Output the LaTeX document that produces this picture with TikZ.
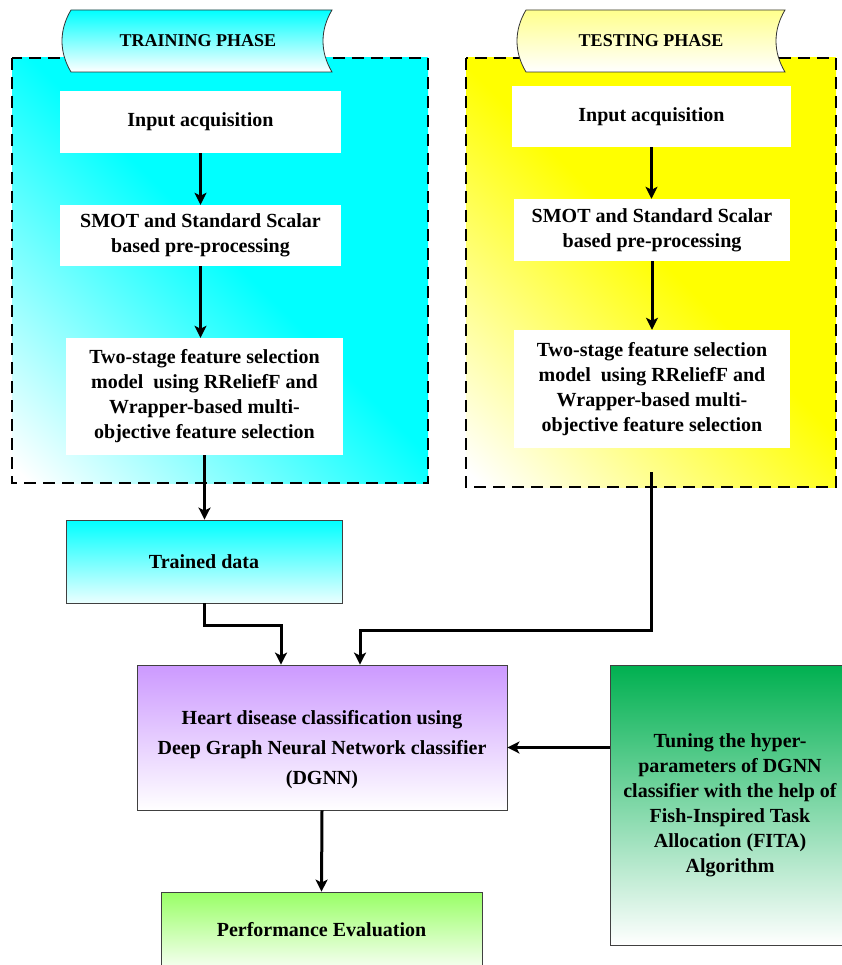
\documentclass[tikz,border=0pt]{standalone}
\usepackage{fontspec}
\setmainfont{Liberation Serif}
\usetikzlibrary{positioning,arrows.meta}

\definecolor{traincyan}{RGB}{0,255,255}
\definecolor{testyellow}{RGB}{255,255,0}
\definecolor{banneryellow}{RGB}{255,255,140}
\definecolor{dgnnpurple}{RGB}{204,153,255}
\definecolor{fitagreen}{RGB}{0,176,80}
\definecolor{perfgreen}{RGB}{153,255,102}

\pgfdeclareverticalshading{trainshade}{100bp}{color(0bp)=(white); color(16bp)=(white); color(52bp)=(traincyan); color(100bp)=(traincyan)}
\pgfdeclareverticalshading{testshade}{100bp}{color(0bp)=(white); color(16bp)=(white); color(52bp)=(testyellow); color(100bp)=(testyellow)}

\begin{document}
\begin{tikzpicture}[x=1pt, y=-1pt, >={Stealth[length=12pt,width=12pt,inset=3pt]},
  every node/.style={font=\bfseries\fontsize{20}{25}\selectfont, align=center},
  inbox/.style={fill=white, inner sep=0pt},
  phase frame/.style={draw=black, line width=2.2pt, dash pattern=on 12pt off 7pt},
  grad box/.style={draw=black!75, line width=0.8pt, inner sep=0pt, top color=#1, bottom color=white},
  banner/.style={draw=black!80, line width=0.8pt, top color=#1, bottom color=white},
  flow/.style={->, line width=3pt}]

\useasboundingbox (0,0) rectangle (842,965);

% phase frames
\path[phase frame, shading=trainshade, shading angle=-45] (12,58) rectangle (428,483);
\path[phase frame, shading=testshade, shading angle=-45] (466,58) rectangle (836,487);

% banners
\path[banner=traincyan] (71,10) -- (332,10) .. controls (320,30) and (320,52) .. (332,72)
  -- (71,72) .. controls (59,52) and (59,30) .. (71,10) -- cycle;
\path[banner=banneryellow] (526,10) -- (785,10) .. controls (773,30) and (773,52) .. (785,72)
  -- (526,72) .. controls (514,52) and (514,30) .. (526,10) -- cycle;
\node (train-title) at (198,41) {\fontsize{18}{20}\selectfont TRAINING PHASE};
\node (test-title) at (651,41) {\fontsize{18}{20}\selectfont TESTING PHASE};

% training
\node[inbox, minimum width=281pt, minimum height=62pt] (in-tr) at (200.5,122) {Input acquisition};
\node[inbox, minimum width=281pt, minimum height=61pt] (smot-tr) at (200.5,235.5)
  {SMOT and Standard Scalar\\based pre-processing};
\node[inbox, minimum width=277pt, minimum height=117pt] (fs-tr) at (204.5,396.5)
  {Two-stage feature selection\\model\ \ using RReliefF and\\Wrapper-based multi-\\objective feature selection};

% testing
\node[inbox, minimum width=279pt, minimum height=61pt] (in-te) at (651.5,116.5) {Input acquisition};
\node[inbox, minimum width=276pt, minimum height=62pt] (smot-te) at (652,230)
  {SMOT and Standard Scalar\\based pre-processing};
\node[inbox, minimum width=276pt, minimum height=118pt] (fs-te) at (652,389)
  {Two-stage feature selection\\model\ \ using RReliefF and\\Wrapper-based multi-\\objective feature selection};
\coordinate (te-out) at (651,472);

% lower part
\node[grad box=traincyan, bottom color=traincyan!8, minimum width=276pt, minimum height=83pt] (trained) at (204,561.5) {Trained data};
\node[grad box=dgnnpurple, minimum width=370pt, minimum height=145pt] (dgnn) at (322,737.5) {};
\node[font=\bfseries\fontsize{20}{30}\selectfont] (dgnn-text) at ([yshift=-12pt]dgnn.center)
  {Heart disease classification using\\Deep Graph Neural Network classifier\\(DGNN)};
\node[grad box=fitagreen, minimum width=240pt, minimum height=280pt] (fita) at (730,805)
  {Tuning the hyper-\\parameters of DGNN\\classifier with the help of\\Fish-Inspired Task\\Allocation (FITA)\\Algorithm};
\node[grad box=perfgreen, bottom color=perfgreen!10, minimum width=321pt, minimum height=75pt] (perf) at (321.5,929.5) {Performance Evaluation};
\coordinate (dgnn-in) at ([yshift=-10pt]dgnn.east);

% Connections
\foreach \a/\b in {in-tr/smot-tr, smot-tr/fs-tr, in-te/smot-te, smot-te/fs-te}
  \draw[flow] (\a.south) -- (\a.south |- \b.north);

\draw[flow] (fs-tr.south) -- (fs-tr.south |- trained.north);
\draw[flow] (trained.south) -- ++(0,22) -| ([xshift=-41pt]dgnn.north);
\draw[flow] (te-out) -- ++(0,158) -| ([xshift=38pt]dgnn.north);
\draw[flow] (fita.west |- dgnn-in) -- (dgnn-in);
\draw[flow] (dgnn.south) -- (perf.north);

\end{tikzpicture}
\end{document}
